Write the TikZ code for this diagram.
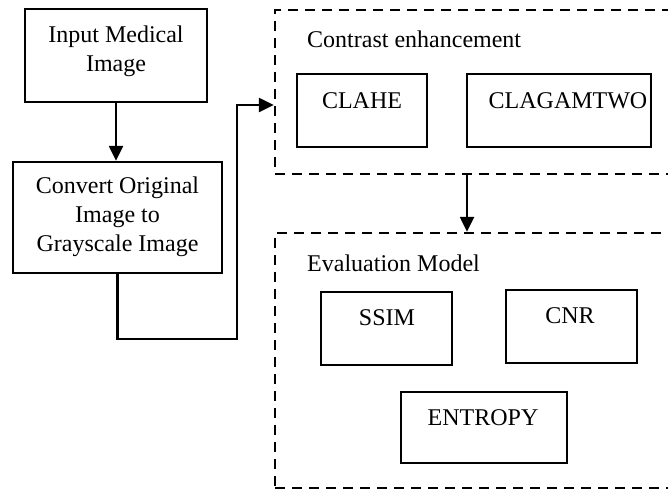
\documentclass[tikz,border=0pt]{standalone}
\usepackage{fontspec}
\setmainfont{Liberation Serif}
\usetikzlibrary{arrows.meta}
\begin{document}
\begin{tikzpicture}[x=1pt,y=-1pt,
  box/.style={draw, line width=2.4pt, inner sep=0pt},
  dbox/.style={draw, line width=2.4pt, dash pattern=on 10pt off 7pt, inner sep=0pt},
  lbl/.style={font=\fontsize{24}{29}\selectfont, align=center, inner sep=0pt},
  arr/.style={line width=2.4pt, -{Triangle[length=15pt,width=14pt]}}]
\useasboundingbox (0,0) rectangle (668,490);
\clip (-1,-1) rectangle (669,491);
% containers
\node[dbox, minimum width=397pt, minimum height=164pt] (ce) at (473.5,92) {};
\node[dbox, minimum width=397pt, minimum height=255pt] (em) at (473.5,360.5) {};
\node[lbl, anchor=base west] (cet) at (307,47) {Contrast enhancement};
\node[lbl, anchor=base west] (emt) at (307,271) {Evaluation Model};
% left boxes
\node[box, minimum width=182pt, minimum height=93pt] (input) at (116,55.5) {};
\node[lbl] (inputt) at (116,51) {Input Medical\\Image};
\node[box, minimum width=209pt, minimum height=111pt] (gray) at (117.5,217.5) {};
\node[lbl] (grayt) at (117.5,216.5) {Convert Original\\Image to\\Grayscale Image};
% contrast boxes
\node[box, minimum width=130pt, minimum height=73pt] (clahe) at (362,110.5) {};
\node[lbl] (clahet) at (362,101) {CLAHE};
\node[box, minimum width=184pt, minimum height=73pt] (clag) at (559,110.5) {};
\node[lbl] (clagt) at (568,101) {CLAGAMTWO};
% evaluation boxes
\node[box, minimum width=131pt, minimum height=73pt] (ssim) at (386.5,328.5) {};
\node[lbl] (ssimt) at (387,318) {SSIM};
\node[box, minimum width=131pt, minimum height=73pt] (cnr) at (571.5,326.5) {};
\node[lbl] (cnrt) at (570,316) {CNR};
\node[box, minimum width=166pt, minimum height=71pt] (ent) at (484,427.5) {};
\node[lbl] (entt) at (483,418) {ENTROPY};
% connectors
\draw[arr] (input.south) -- (input.south |- gray.north);
\coordinate (k1) at (237,339);
\coordinate (k2) at (237,105);
\draw[arr] (gray.south) |- (k1) -- (k2) -- (k2 -| ce.west);
\coordinate (a1) at (467,174);
\draw[arr] (a1) -- (a1 |- em.north);
\end{tikzpicture}
\end{document}
